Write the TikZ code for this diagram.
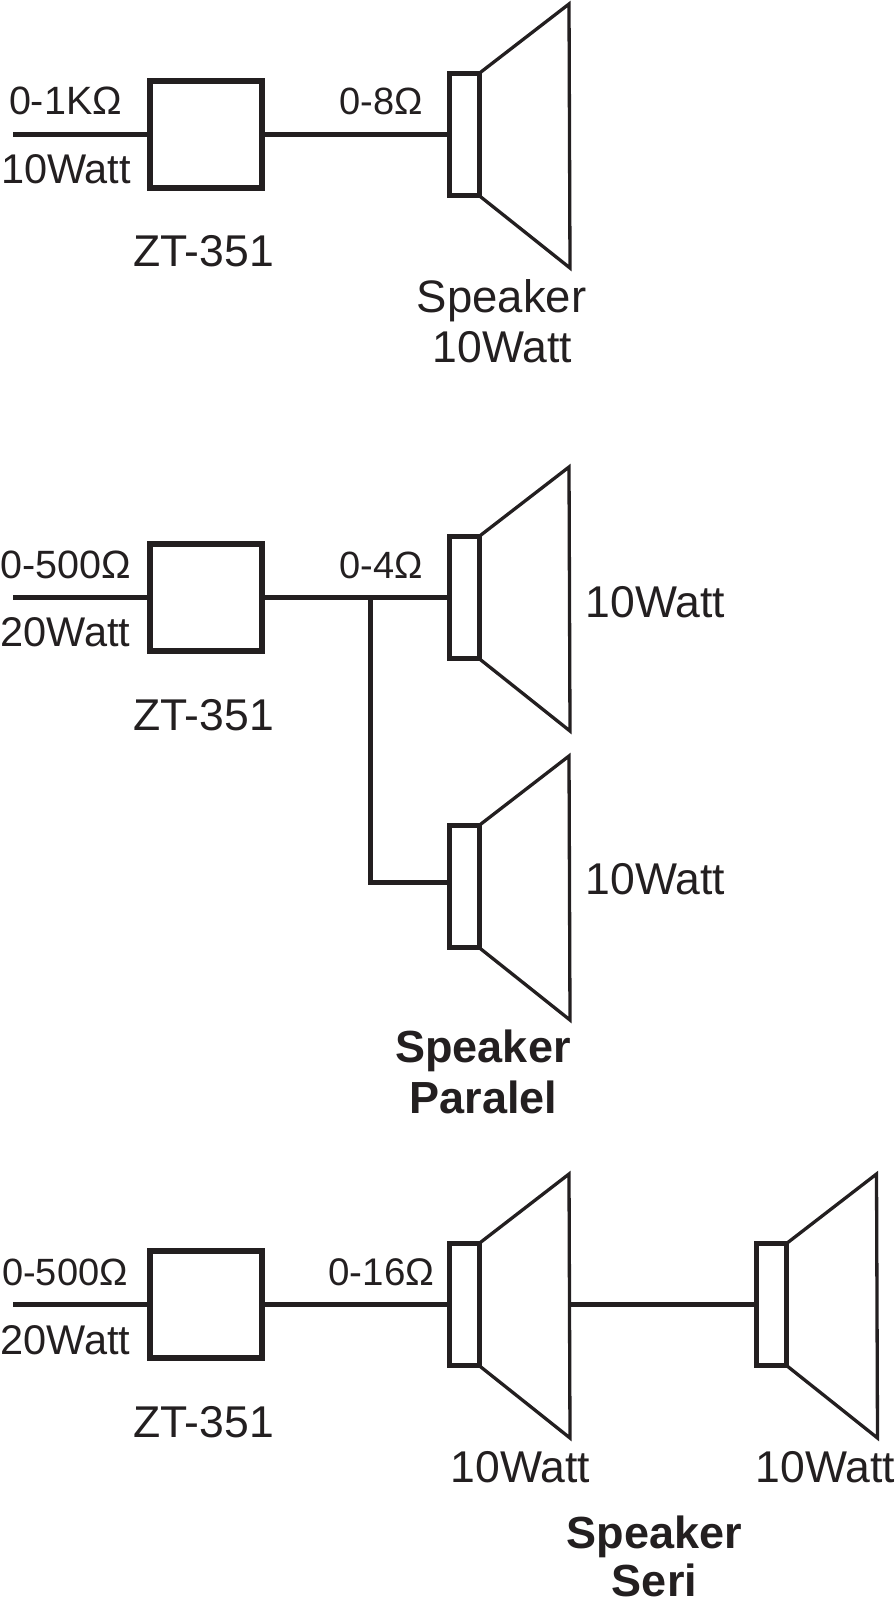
\documentclass[tikz,border=0pt]{standalone}
\usepackage{fontspec}
\setmainfont{Liberation Sans}
\definecolor{ink}{HTML}{231F20}
\newcommand{\fs}[1]{\fontsize{#1}{#1}\selectfont}
\tikzset{
  x=1pt,y=-1pt,
  ampbox/.style={draw=ink,line width=5.5pt,minimum width=112pt,minimum height=107pt,inner sep=0pt,outer sep=0pt},
  voice/.style={draw=ink,line width=5pt,minimum width=30pt,minimum height=122pt,inner sep=0pt,outer sep=0pt},
  cone/.style={draw=ink,line width=3.3pt,line join=miter},
  wire/.style={draw=ink,line width=5pt},
  lab/.style={anchor=base,inner sep=0pt,text=ink},
  small/.style={lab,font=\fs{38}},
  inwatt/.style={lab,font=\fs{41.5}},
  large/.style={lab,font=\fs{44.5}},
  head/.style={lab,font=\fs{45}\bfseries},
}
% name, centre x, centre y
\newcommand{\speaker}[3]{%
  \node[voice] (#1) at (#2,#3) {};
  \draw[cone] (#1.north east) -- ++(90,-69.5) -- ++(1,264) -- (#1.south east);
  \coordinate (#1-r) at ([xshift=90pt]#1.east);
}
\begin{document}
\begin{tikzpicture}
\useasboundingbox (0,0) rectangle (895,1600);
% --- Group 1
\node[ampbox] (a1) at (205.75,134.5) {};
\speaker{s1}{464}{134.5}
\coordinate (i1) at (13,134.5);
\draw[wire] (i1) -- (a1);
\draw[wire] (a1) -- (s1);
\node[lab,font=\fs{39.5}] (t1) at (65.5,115) {0-1KΩ};
\node[inwatt] (t2) at (66,183) {10Watt};
\node[large] (t3) at (203.5,266) {ZT-351};
\node[small] (t4) at (381.5,115) {0-8Ω};
\node[lab,font=\fs{45.5}] (t5) at (501.5,312) {Speaker};
\node[large] (t6) at (502.5,362) {10Watt};
% --- Group 2
\node[ampbox] (a2) at (205.75,597.5) {};
\speaker{s2}{464}{597.5}
\speaker{s3}{464}{886.5}
\coordinate (i2) at (13,597.5);
\coordinate (j2) at (370,597.5);
\draw[wire] (i2) -- (a2);
\draw[wire] (a2) -- (s2);
\draw[wire] (j2) |- ([yshift=4.5pt]s3.west);
\node[lab,font=\fs{39.5}] (u1) at (65.5,578) {0-500Ω};
\node[inwatt] (u2) at (65.5,646.5) {20Watt};
\node[large] (u3) at (203.5,730) {ZT-351};
\node[small] (u4) at (381,578) {0-4Ω};
\node[large] (u5) at (655.5,617) {10Watt};
\node[large] (u6) at (655.5,894) {10Watt};
\node[head] (u7) at (483,1062) {Speaker};
\node[head] (u8) at (483.5,1113) {Paralel};
% --- Group 3
\node[ampbox] (a3) at (205.75,1304.5) {};
\speaker{s4}{464}{1304.5}
\speaker{s5}{771.5}{1304.5}
\coordinate (i3) at (13,1304.5);
\draw[wire] (i3) -- (a3);
\draw[wire] (a3) -- (s4);
\draw[wire] (s4-r) -- (s5.west);
\node[small] (v1) at (65,1285) {0-500Ω};
\node[inwatt] (v2) at (65.5,1354) {20Watt};
\node[large] (v3) at (203.5,1437) {ZT-351};
\node[lab,font=\fs{38.5}] (v4) at (381.5,1285) {0-16Ω};
\node[large] (v5) at (520.5,1482) {10Watt};
\node[large] (v6) at (825.5,1482) {10Watt};
\node[head] (v7) at (654.5,1548) {Speaker};
\node[head] (v8) at (654.5,1596) {Seri};
\end{tikzpicture}
\end{document}
